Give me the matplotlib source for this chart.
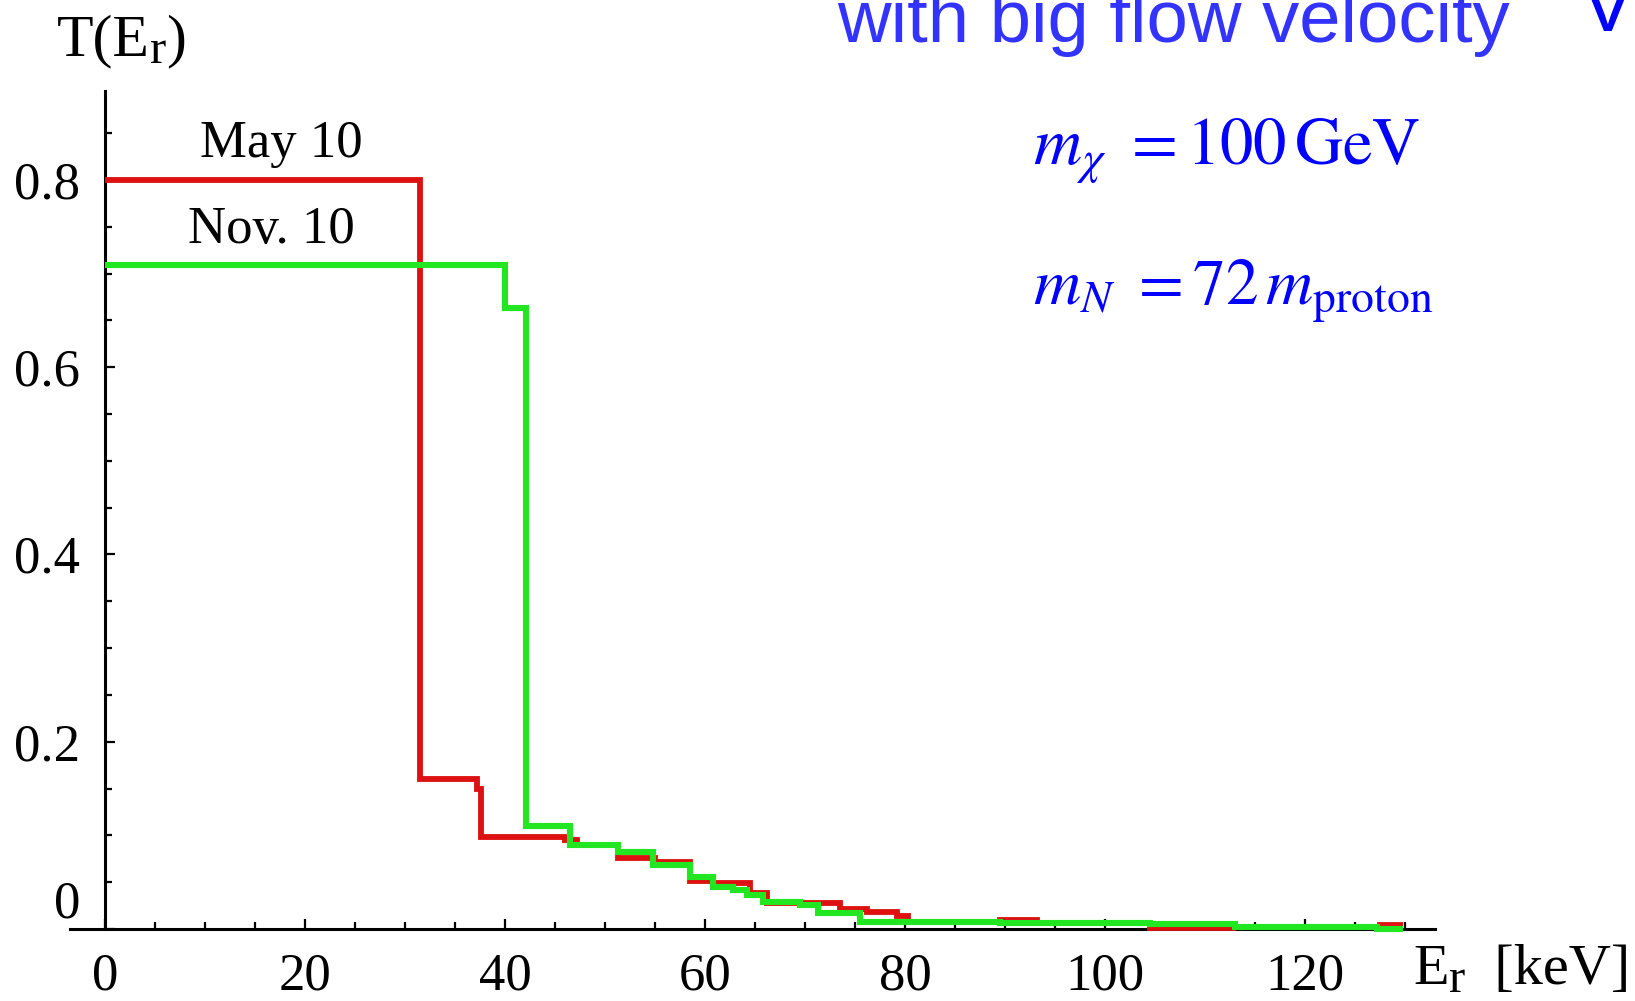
import matplotlib
matplotlib.use('Agg')
import matplotlib.pyplot as plt
from matplotlib.ticker import MultipleLocator, FixedLocator, FixedFormatter

# ---- data ----
may_edges = [0, 31.5, 37.2, 37.6, 46.0, 47.2, 51.3, 55.0, 58.5, 60.8, 64.5, 66.2,
             73.5, 76.2, 79.2, 80.3, 89.5, 93.2, 104.5, 112.8, 127.5, 129.8]
may_vals = [0.800, 0.160, 0.150, 0.098, 0.095, 0.090, 0.076, 0.072, 0.051, 0.049,
            0.038, 0.028, 0.021, 0.018, 0.014, 0.007, 0.010, 0.006, 0.001, 0.002, 0.004]

nov_edges = [0, 40.0, 42.1, 46.5, 51.3, 54.8, 58.5, 60.8, 62.8, 64.2, 65.8, 69.5,
             71.3, 75.5, 89.5, 104.5, 113.0, 127.2, 129.8]
nov_vals = [0.709, 0.663, 0.110, 0.090, 0.082, 0.068, 0.056, 0.045, 0.042, 0.036,
            0.029, 0.026, 0.017, 0.008, 0.0065, 0.005, 0.002, 0.0]

x_ticks = [0, 20, 40, 60, 80, 100, 120]
x_ticklabels = ['0', '20', '40', '60', '80', '100', '120']
y_ticks = [0, 0.2, 0.4, 0.6, 0.8]
y_ticklabels = ['0', '0.2', '0.4', '0.6', '0.8']

plt.rcParams['font.family'] = ['Liberation Serif', 'DejaVu Serif']
plt.rcParams['mathtext.fontset'] = 'stix'

W, H = 1635, 1001
fig = plt.figure(figsize=(W / 100, H / 100), dpi=100)

def fx(px):
    return px / W

def fy(py):
    return 1 - py / H

# axes: x from -3.5 (px 70) to 133 (px 1435); y from 0 (px 929) to 0.895 (px 91)
ax = fig.add_axes([fx(70), fy(929), (1435 - 70) / W, (929 - 91) / H])
ax.set_xlim(-3.5, 133)
ax.set_ylim(0, 0.895)

red = '#dd1111'
green = '#22e622'
ax.stairs(may_vals, may_edges, baseline=None, color=red, linewidth=4.2, clip_on=False, zorder=3)
ax.stairs(nov_vals, nov_edges, baseline=None, color=green, linewidth=4.4, clip_on=False, zorder=4)

for s in ['top', 'right']:
    ax.spines[s].set_visible(False)
ax.spines['left'].set_position(('data', 0))
ax.spines['left'].set_linewidth(2.2)
ax.spines['bottom'].set_linewidth(2.2)

ax.xaxis.set_major_locator(FixedLocator(x_ticks))
ax.xaxis.set_major_formatter(FixedFormatter(x_ticklabels))
ax.xaxis.set_minor_locator(MultipleLocator(5))
ax.yaxis.set_major_locator(FixedLocator(y_ticks))
ax.yaxis.set_major_formatter(FixedFormatter(y_ticklabels))
ax.yaxis.set_minor_locator(MultipleLocator(0.05))

ax.tick_params(axis='both', which='both', direction='in', width=1.6, color='black')
ax.tick_params(axis='both', which='major', length=7.5)
ax.tick_params(axis='both', which='minor', length=5)
ax.tick_params(axis='x', which='major', pad=17, labelsize=38)
ax.tick_params(axis='y', which='major', pad=18, labelsize=38)

for lab in ax.get_yticklabels():
    if lab.get_text() == '0':
        lab.set_verticalalignment('bottom')

# annotations inside plot
ax.text(17.6, 0.825, 'May 10', ha='center', va='baseline', fontsize=38)
ax.text(16.6, 0.733, 'Nov. 10', ha='center', va='baseline', fontsize=38)

ax.text(92.8, 0.816, r'$m_{\chi}\ =100\,\mathrm{GeV}$', ha='left', va='baseline',
        fontsize=48, color='#0000ff')
ax.text(92.8, 0.667, r'$m_{N}\ =72\,m_{\mathrm{proton}}$', ha='left', va='baseline',
        fontsize=47, color='#0000ff')

# axis labels built from pieces (large, lowered subscript r)
renderer = fig.canvas.get_renderer()

def compose(x0, base_y, pieces):
    """pieces: list of (text, fontsize, dy_px)"""
    x = x0
    for txt, fs, dy in pieces:
        t = fig.text(fx(x), fy(base_y + dy), txt, ha='left', va='baseline', fontsize=fs)
        bb = t.get_window_extent(renderer=renderer)
        x += bb.width

compose(57, 55, [('T(E', 43, 0), ('r', 35, 8), (')', 43, 0)])
compose(1413, 984, [('E', 42, 0), ('r', 35, 8), ('  [keV]', 42, 0)])

# title fragments at top (partly cut off, as in the reference)
fig.text(fx(837), fy(42), 'with big flow velocity', ha='left', va='baseline',
         fontsize=53.5, color='#3333ff', family='Liberation Sans')
fig.text(fx(1581), fy(31), 'V', ha='left', va='baseline',
         fontsize=58, color='#0000ff', family='Liberation Sans')

fig.savefig('out.png', dpi=100)
